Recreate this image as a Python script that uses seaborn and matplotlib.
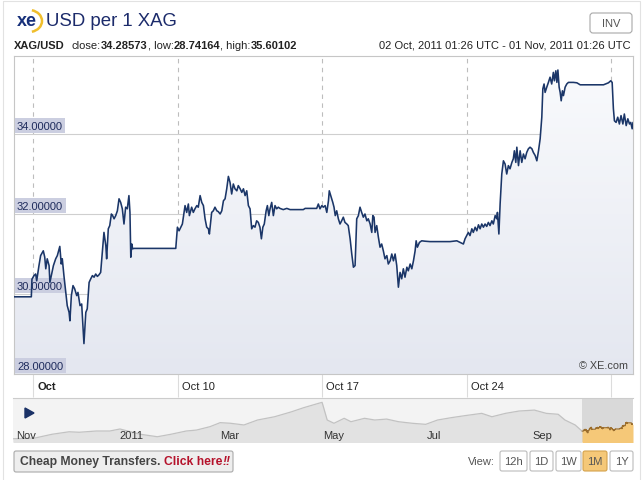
import numpy as np
import pandas as pd
import seaborn as sns
import matplotlib
matplotlib.use('Agg')
import matplotlib.pyplot as plt
from matplotlib.patches import Rectangle, FancyBboxPatch, Polygon, Arc
from matplotlib.colors import LinearSegmentedColormap
from matplotlib.transforms import ScaledTranslation, blended_transform_factory

# XAG/USD over one month, x = day of October 2011 (32 = Nov 1)
oct_day = [2.06, 2.90, 2.93, 3.03, 3.11, 3.16, 3.27, 3.35, 3.48, 3.55, 3.60, 3.67, 3.76, 3.80,
           3.87, 3.97, 4.08, 4.16, 4.28, 4.35, 4.40, 4.48, 4.57, 4.64, 4.73, 4.77, 4.84, 4.92,
           5.00, 5.10, 5.16, 5.26, 5.34, 5.42, 5.45, 5.54, 5.61, 5.70, 5.78, 5.86, 5.94, 6.02,
           6.10, 6.18, 6.26, 6.34, 6.42, 6.51, 6.55, 6.63, 6.70, 6.78, 6.84, 6.91, 6.99, 7.07,
           7.15, 7.23, 7.31, 7.39, 7.47, 7.55, 7.63, 7.68, 7.72, 7.77, 7.81, 7.88, 9.90, 9.98,
           10.06, 10.22, 10.35, 10.43, 10.51, 10.56, 10.67, 10.75, 10.83, 10.92, 10.99, 11.08,
           11.16, 11.24, 11.32, 11.40, 11.48, 11.53, 11.59, 11.64, 11.72, 11.80, 11.89, 11.96,
           12.05, 12.13, 12.21, 12.29, 12.37, 12.45, 12.53, 12.61, 12.69, 12.77, 12.86, 12.93,
           13.02, 13.10, 13.18, 13.26, 13.34, 13.42, 13.50, 13.58, 13.66, 13.74, 13.82, 13.90,
           13.98, 14.05, 14.12, 14.19, 14.28, 14.34, 14.41, 14.47, 14.55, 14.63, 14.71, 14.79,
           14.87, 14.95, 15.11, 15.28, 15.44, 16.08, 16.17, 16.73, 16.81, 16.89, 16.98, 17.05,
           17.14, 17.22, 17.30, 17.34, 17.41, 17.51, 17.57, 17.63, 17.70, 17.78, 17.86, 17.94,
           18.02, 18.10, 18.19, 18.26, 18.35, 18.43, 18.51, 18.59, 18.67, 18.75, 18.83, 18.91,
           18.99, 19.07, 19.16, 19.23, 19.32, 19.40, 19.45, 19.51, 19.56, 19.64, 19.72, 19.80,
           19.88, 19.96, 20.04, 20.13, 20.20, 20.29, 20.37, 20.45, 20.53, 20.61, 20.69, 20.77,
           20.85, 20.93, 21.01, 21.10, 21.17, 21.26, 21.34, 21.42, 21.50, 21.55, 21.61, 21.71,
           21.82, 21.98, 22.22, 23.19, 23.35, 23.52, 23.68, 23.84, 23.92, 24.00, 24.08, 24.16,
           24.25, 24.32, 24.41, 24.49, 24.57, 24.65, 24.73, 24.81, 24.89, 24.97, 25.05, 25.13,
           25.22, 25.29, 25.38, 25.46, 25.49, 25.56, 25.62, 25.70, 25.78, 25.86, 25.94, 26.02,
           26.10, 26.19, 26.26, 26.31, 26.38, 26.43, 26.51, 26.59, 26.67, 26.75, 26.83, 26.91,
           26.99, 27.07, 27.16, 27.23, 27.32, 27.40, 27.48, 27.56, 27.64, 27.69, 27.75, 27.80,
           27.88, 27.96, 28.04, 28.12, 28.20, 28.25, 28.32, 28.37, 28.42, 28.48, 28.53, 28.58,
           28.64, 28.69, 28.77, 28.85, 28.93, 29.17, 29.34, 29.50, 29.98, 30.63, 30.87, 30.98,
           31.05, 31.11, 31.16, 31.24, 31.32, 31.40, 31.48, 31.57, 31.64, 31.73, 31.81, 31.89,
           31.95, 32.02, 32.06]
price = [29.93, 29.93, 30.37, 30.46, 30.50, 30.33, 30.71, 30.96, 31.08, 30.92, 30.63, 30.88, 30.71, 30.29,
         30.46, 30.71, 30.88, 30.96, 31.19, 30.75, 30.88, 30.46, 30.04, 29.71, 29.54, 29.33, 29.96, 30.21,
         30.13, 29.96, 30.04, 29.71, 29.75, 29.04, 28.76, 29.54, 29.63, 30.29, 30.38, 30.46, 30.42, 30.50,
         30.44, 30.48, 30.54, 31.04, 31.54, 31.21, 30.88, 31.63, 31.71, 32.00, 31.96, 31.88, 31.96, 32.08,
         32.38, 32.29, 32.13, 31.75, 32.17, 32.13, 32.46, 32.04, 30.92, 31.25, 31.13, 31.14, 31.14, 31.67,
         31.58, 31.75, 32.21, 32.04, 32.25, 31.96, 32.17, 32.04, 32.13, 32.21, 32.17, 32.46,
         32.29, 32.21, 31.88, 31.67, 31.63, 31.50, 31.79, 32.04, 32.08, 32.17, 32.08, 32.06,
         32.00, 32.08, 32.33, 32.38, 32.63, 32.94, 32.79, 32.50, 32.75, 32.63, 32.58, 32.71,
         32.63, 32.54, 32.63, 32.46, 32.58, 32.21, 32.13, 31.63, 31.71, 31.67, 31.83, 31.79,
         31.67, 31.38, 31.67, 31.75, 32.08, 32.21, 31.96, 32.13, 32.29, 31.96, 32.21, 32.13,
         32.17, 32.14, 32.11, 32.14, 32.11, 32.11, 32.14, 32.14, 32.25, 32.13, 32.21, 32.17,
         32.21, 32.04, 32.33, 32.58, 32.46, 32.29, 32.17, 31.96, 32.08, 31.88, 31.75, 31.83,
         31.92, 31.79, 31.75, 31.71, 31.38, 31.00, 30.67, 30.71, 31.88, 31.96, 32.17, 32.04,
         31.92, 32.00, 31.83, 31.88, 31.75, 31.54, 31.96, 31.92, 31.54, 31.71, 31.42, 31.17,
         31.25, 31.08, 30.88, 30.96, 30.75, 30.83, 31.00, 30.83, 31.00, 30.71, 30.17, 30.54,
         30.38, 30.63, 30.42, 30.67, 30.58, 30.75, 30.63, 30.83, 31.08, 31.33, 31.17, 31.29,
         31.33, 31.32, 31.31, 31.31, 31.32, 31.33, 31.29, 31.25, 31.38, 31.46, 31.54, 31.46,
         31.63, 31.54, 31.67, 31.58, 31.73, 31.63, 31.75, 31.67, 31.75, 31.69, 31.79, 31.71,
         31.83, 31.75, 31.96, 31.88, 32.04, 31.50, 32.25, 33.00, 33.33, 33.25, 33.00, 33.21,
         33.13, 33.29, 33.38, 33.58, 33.29, 33.67, 33.21, 33.58, 33.29, 33.50, 33.38, 33.54,
         33.63, 33.67, 33.63, 33.54, 33.46, 33.33, 33.58, 33.88, 34.42, 35.13, 35.25, 35.04,
         35.17, 35.29, 35.42, 35.25, 35.54, 35.33, 35.58, 35.29, 35.60, 35.17, 35.04, 34.83,
         35.08, 34.96, 35.17, 35.25, 35.29, 35.29, 35.28, 35.23, 35.23, 35.23, 35.28, 35.33,
         35.29, 34.63, 34.33, 34.29, 34.42, 34.25, 34.46, 34.25, 34.50, 34.21, 34.38, 34.25,
         34.29, 34.13, 34.29]

# one year overview shown in the navigator strip
nav_dates = ['2010-11-01', '2010-11-14', '2010-11-24', '2010-12-04', '2010-12-10', '2010-12-20',
             '2010-12-28', '2011-01-03', '2011-01-15', '2011-01-25', '2011-02-02', '2011-02-11',
             '2011-02-17', '2011-02-25', '2011-03-03', '2011-03-09', '2011-03-17', '2011-03-25',
             '2011-04-04', '2011-04-14', '2011-04-21', '2011-04-30', '2011-05-02', '2011-05-05',
             '2011-05-09', '2011-05-15', '2011-05-19', '2011-05-27', '2011-06-02', '2011-06-09',
             '2011-06-16', '2011-06-24', '2011-07-02', '2011-07-09', '2011-07-17', '2011-07-25',
             '2011-08-04', '2011-08-10', '2011-08-18', '2011-08-26', '2011-09-04', '2011-09-11',
             '2011-09-18', '2011-09-22', '2011-09-28', '2011-10-02']
nav_price = [25.0, 25.5, 27.9, 29.5, 29.2, 30.0,
             30.0, 31.3, 27.9, 26.3, 27.9, 30.0,
             30.6, 32.8, 35.4, 35.0, 33.9, 37.1,
             39.2, 42.4, 45.0, 47.9, 48.5, 37.1,
             35.0, 38.2, 36.0, 38.2, 37.1, 37.7,
             36.0, 35.0, 34.3, 37.1, 38.6, 39.9,
             41.4, 39.2, 41.4, 42.9, 43.5, 41.4,
             40.8, 37.1, 33.9, 30.0]

y_ticks = [28, 30, 32, 34]
x_tick_days = [3, 10, 17, 24, 31]
x_tick_labels = ['Oct', 'Oct 10', 'Oct 17', 'Oct 24', '']
nav_months = ['2010-11-01', '2011-01-01', '2011-03-01', '2011-05-01', '2011-07-01', '2011-09-01']
nav_labels = ['Nov', '2011', 'Mar', 'May', 'Jul', 'Sep']
stats = [('close:', '34.28573'), (', low:', '28.74164'), (', high:', '35.60102')]
period_text = '02 Oct, 2011 01:26 UTC - 01 Nov, 2011 01:26 UTC'
view_buttons = ['12h', '1D', '1W', '1M', '1Y']
active_view = '1M'

sns.set_style('white')
plt.rcParams['font.family'] = ['Liberation Sans', 'DejaVu Sans']

base = pd.Timestamp('2011-10-01')


def day_to_time(d):
    return base + pd.to_timedelta(np.asarray(d, dtype=float) - 1, unit='D')


df = pd.DataFrame({'time': day_to_time(oct_day), 'price': price})
nav_df = pd.DataFrame({'time': pd.to_datetime(nav_dates), 'price': nav_price})

W, H = 644, 481
fig = plt.figure(figsize=(W / 100, H / 100), dpi=100)


def px_axes(x0, y0, x1, y1):
    return fig.add_axes([x0 / W, 1 - y1 / H, (x1 - x0) / W, (y1 - y0) / H])


# ---------------- main chart ----------------
ax = px_axes(14, 57, 633, 375)
sns.lineplot(data=df, x='time', y='price', ax=ax, color='#1b3668', lw=1.15, zorder=4)
ax.set(xlabel='', ylabel='')

# gradient fill under the line
poly = ax.fill_between(df['time'], df['price'], 28, color='none', lw=0)
xl = ax.get_xlim()
cmap = LinearSegmentedColormap.from_list('fill', ['#e4e7f0', '#fafbfd'])
grad = np.linspace(0, 1, 256).reshape(-1, 1)
im = ax.imshow(grad, extent=[xl[0], xl[1], 28, 36], origin='lower', aspect='auto',
               cmap=cmap, zorder=1)
im.set_clip_path(poly.get_paths()[0], transform=ax.transData)

ax.set_xlim(df['time'].iloc[0], df['time'].iloc[-1])
ax.set_ylim(28, 35.95)

ax.set_yticks(y_ticks)
ax.set_yticklabels([])
ax.tick_params(axis='y', length=0)
ax.grid(axis='y', color='#cfcfcf', lw=0.8)

ax.set_xticks(day_to_time(x_tick_days))
ax.set_xticklabels([])
ax.grid(axis='x', color='#bdbdbd', lw=0.8, linestyle=(0, (4, 4)))
ax.tick_params(axis='x', direction='out', length=16.5, width=0.8, color='#dcdcdc', bottom=True)
for s in ax.spines.values():
    s.set_color('#c6c6c6')
    s.set_linewidth(0.8)

# x labels under the chart
xtrans = blended_transform_factory(ax.transData, ax.transAxes) + \
    ScaledTranslation(0.04, -0.12, fig.dpi_scale_trans)
for t, lab in zip(day_to_time(x_tick_days), x_tick_labels):
    ax.text(t, 0, lab, transform=xtrans, ha='left', va='center', fontsize=8,
            color='#222222', fontweight='bold' if lab == 'Oct' else 'normal', clip_on=False)

# y labels drawn inside the chart
ytrans = blended_transform_factory(ax.transAxes, ax.transData) + \
    ScaledTranslation(0.03, 0.032, fig.dpi_scale_trans)
for v in y_ticks:
    ax.text(0, v, f'{v:.5f}', transform=ytrans, ha='left', va='bottom', fontsize=8,
            color='#1e2b5c', zorder=3,
            bbox=dict(boxstyle='square,pad=0.22', fc='#cbcee0', ec='none'))

ax.text(0.992, 0.012, '\u00a9 XE.com', transform=ax.transAxes, ha='right', va='bottom',
        fontsize=7.8, color='#444444')

# ---------------- navigator ----------------
nav = px_axes(13, 398.7, 633, 442.7)
nav.set_facecolor('#f3f3f3')
nav.fill_between(nav_df['time'], nav_df['price'], 20, color='#e2e2e2', lw=0)
sns.lineplot(data=nav_df, x='time', y='price', ax=nav, color='#c2c2c2', lw=0.9)
nav.axvspan(df['time'].iloc[0], df['time'].iloc[-1], color='#d9d9d9', lw=0)
nav.fill_between(df['time'], df['price'], 20, color='#f5c878', lw=0)
sns.lineplot(data=df, x='time', y='price', ax=nav, color='#9c6e2c', lw=0.8)
nav.set(xlabel='', ylabel='')
nav.set_xlim(pd.Timestamp('2010-11-01'), df['time'].iloc[-1])
nav.set_ylim(23.1, 51.5)
nav.set_xticks([])
nav.set_yticks([])
for name, s in nav.spines.items():
    s.set_visible(name == 'top')
    s.set_color('#cccccc')
    s.set_linewidth(0.8)
ntrans = blended_transform_factory(nav.transData, nav.transAxes) + \
    ScaledTranslation(0.03, 0.07, fig.dpi_scale_trans)
for t, lab in zip(pd.to_datetime(nav_months), nav_labels):
    nav.text(t, 0, lab, transform=ntrans, ha='left', va='center', fontsize=8, color='#333333')

# overlay in pixel units for header / footer decorations, drawn on top
ov = fig.add_axes([0, 0, 1, 1])
ov.set_zorder(10)
ov.set_xlim(0, W)
ov.set_ylim(H, 0)
ov.axis('off')
ov.patch.set_alpha(0)

ov.add_patch(Polygon([[25, 409], [34, 414], [25, 419]], closed=True, color='#1a3166'))

# ---------------- header ----------------
ov.add_patch(Rectangle((3, 2), 637, 490, fill=False, ec='#e2e2e2', lw=0.8))
ov.text(17, 22, 'xe', fontsize=13, fontweight='bold', color='#17307a', va='center')
ov.add_patch(Arc((29, 22), 26, 22, theta1=-75, theta2=75, color='#f0be2c', lw=1.8))
ov.text(46, 22, 'USD per 1 XAG', fontsize=13.4, color='#1c2b6b', va='center')

ov.add_patch(FancyBboxPatch((590, 14), 42, 20, boxstyle='round,pad=0,rounding_size=3',
                            fc='white', ec='#a8a8a8', lw=0.8))
ov.text(611, 24, 'INV', ha='center', va='center', fontsize=8, color='#555555')

ov.text(14, 46, 'XAG/USD', fontsize=8, fontweight='bold', color='#222222', va='center')
prev = None
for lab, val in stats:
    if prev is None:
        prev = ov.text(72, 46, lab, fontsize=8, color='#222222', va='center')
    else:
        prev = ov.annotate(lab, xy=(1, 0), xycoords=prev, va='bottom', fontsize=8, color='#222222')
    prev = ov.annotate(val, xy=(1, 0), xycoords=prev, va='bottom', fontsize=8,
                       fontweight='bold', color='#222222')
ov.text(631, 46, period_text, ha='right', va='center', fontsize=8, color='#222222')

# ---------------- footer ----------------
ov.add_patch(FancyBboxPatch((14, 452), 219, 21, boxstyle='round,pad=0,rounding_size=2',
                            fc='#eeeeee', ec='#aaaaaa', lw=0.8))
t1 = ov.text(20, 462.5, 'Cheap Money Transfers. ', fontsize=8.7, fontweight='bold',
             color='#444444', va='center')
t2 = ov.annotate('Click here', xy=(1, 0), xycoords=t1, va='bottom', fontsize=8.7,
                 fontweight='bold', color='#b5122b')
ov.annotate('!!', xy=(1, 0), xycoords=t2, va='bottom', fontsize=8.7, fontweight='bold',
            fontstyle='italic', color='#b5122b')

ov.text(468, 462, 'View:', ha='left', va='center', fontsize=8, color='#555555')
btn_x = [500, 530, 556, 583, 610]
btn_w = [27, 23, 25, 24, 23]
for lab, x0, w in zip(view_buttons, btn_x, btn_w):
    on = lab == active_view
    ov.add_patch(FancyBboxPatch((x0, 452), w, 20, boxstyle='round,pad=0,rounding_size=2',
                                fc='#f5c878' if on else 'white',
                                ec='#d4a24c' if on else '#bbbbbb', lw=0.8))
    ov.text(x0 + w / 2, 462, lab, ha='center', va='center', fontsize=8, color='#555555')

fig.savefig('out.png', dpi=100)
